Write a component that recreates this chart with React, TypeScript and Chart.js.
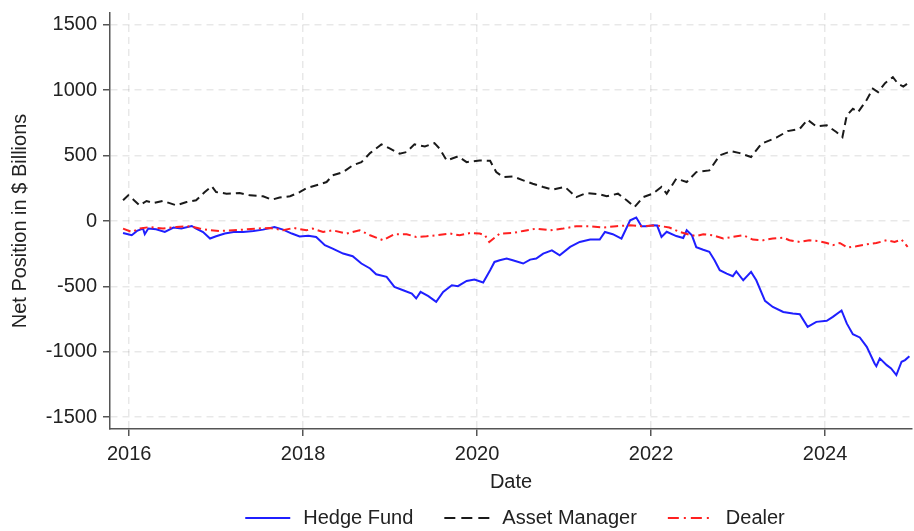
import React, { useEffect, useRef } from "react";
import { Chart, registerables } from "chart.js";

Chart.register(...registerables);

const seriesNames = ["Hedge Fund", "Asset Manager", "Dealer"];

const hedgeFundDates = [
  2015.93, 2016.03, 2016.09, 2016.16, 2016.18, 2016.22, 2016.31, 2016.41, 2016.51, 2016.6, 2016.72, 2016.77,
  2016.85, 2016.93, 2017.0, 2017.1, 2017.2, 2017.31, 2017.43, 2017.54, 2017.67, 2017.77, 2017.87, 2017.96,
  2018.06, 2018.15, 2018.25, 2018.34, 2018.46, 2018.57, 2018.67, 2018.77, 2018.84, 2018.96, 2019.05, 2019.15,
  2019.25, 2019.3, 2019.35, 2019.44, 2019.53, 2019.61, 2019.71, 2019.78, 2019.88, 2019.97, 2020.07, 2020.15,
  2020.2, 2020.26, 2020.34, 2020.41, 2020.53, 2020.61, 2020.68, 2020.76, 2020.86, 2020.95, 2021.07, 2021.18,
  2021.3, 2021.41, 2021.47, 2021.56, 2021.66, 2021.76, 2021.83, 2021.89, 2021.95, 2022.02, 2022.07, 2022.12,
  2022.18, 2022.29, 2022.37, 2022.41, 2022.47, 2022.52, 2022.6, 2022.67, 2022.73, 2022.79, 2022.87, 2022.94,
  2022.98, 2023.06, 2023.15, 2023.21, 2023.31, 2023.4, 2023.52, 2023.63, 2023.71, 2023.8, 2023.9, 2024.02,
  2024.09, 2024.19, 2024.25, 2024.32, 2024.4, 2024.48, 2024.57, 2024.59, 2024.63, 2024.71, 2024.76, 2024.82,
  2024.88, 2024.92, 2024.97,
];
const hedgeFundValues = [
  -92, -109, -76, -58, -101, -58, -63, -84, -50, -58, -38, -58,
  -84, -134, -117, -96, -84, -84, -76, -66, -46, -66, -96, -118,
  -112, -122, -185, -211, -249, -269, -325, -363, -407, -427, -504, -529,
  -554, -592, -542, -575, -618, -542, -491, -498, -458, -447, -470, -376,
  -313, -300, -287, -300, -325, -295, -287, -249, -224, -262, -198, -160,
  -142, -142, -84, -101, -134, 5, 26, -40, -40, -33, -35, -122,
  -82, -115, -130, -71, -110, -200, -220, -235, -300, -376, -402, -422,
  -385, -453, -389, -453, -610, -657, -695, -707, -712, -809, -771, -763,
  -733, -684, -783, -865, -890, -962, -1089, -1110, -1050, -1102, -1127, -1178,
  -1076, -1063, -1033,
];

const assetManagerDates = [
  2015.93, 2015.99, 2016.05, 2016.12, 2016.2, 2016.28, 2016.39, 2016.54, 2016.66, 2016.77, 2016.87, 2016.95,
  2017.0, 2017.12, 2017.27, 2017.39, 2017.54, 2017.64, 2017.73, 2017.85, 2017.96, 2018.04, 2018.19, 2018.27,
  2018.34, 2018.46, 2018.57, 2018.67, 2018.77, 2018.9, 2019.0, 2019.11, 2019.19, 2019.28, 2019.4, 2019.51,
  2019.57, 2019.65, 2019.78, 2019.88, 2020.03, 2020.15, 2020.22, 2020.3, 2020.41, 2020.53, 2020.64, 2020.76,
  2020.87, 2021.01, 2021.14, 2021.26, 2021.41, 2021.49, 2021.62, 2021.72, 2021.81, 2021.91, 2022.02, 2022.12,
  2022.18, 2022.29, 2022.41, 2022.52, 2022.67, 2022.79, 2022.92, 2023.02, 2023.15, 2023.27, 2023.44, 2023.57,
  2023.71, 2023.8, 2023.9, 2024.02, 2024.13, 2024.2, 2024.25, 2024.32, 2024.38, 2024.48, 2024.55, 2024.61,
  2024.69, 2024.78, 2024.84, 2024.9, 2024.97,
];
const assetManagerValues = [
  158, 196, 163, 120, 153, 137, 153, 120, 145, 158, 221, 265,
  221, 209, 214, 196, 189, 163, 179, 189, 221, 252, 280, 298,
  349, 374, 425, 450, 519, 586, 553, 515, 527, 586, 570, 595,
  553, 463, 494, 450, 463, 460, 374, 336, 341, 311, 285, 260,
  240, 260, 183, 214, 204, 189, 209, 158, 107, 183, 209, 260,
  209, 324, 298, 374, 387, 502, 534, 519, 489, 591, 637, 687,
  705, 774, 723, 731, 680, 641, 807, 858, 832, 927, 1011, 985,
  1054, 1099, 1049, 1028, 1061,
];

const dealerDates = [
  2015.93, 2016.03, 2016.12, 2016.24, 2016.39, 2016.54, 2016.7, 2016.81, 2016.93, 2017.04, 2017.2, 2017.31,
  2017.46, 2017.62, 2017.77, 2017.89, 2018.04, 2018.11, 2018.23, 2018.34, 2018.5, 2018.65, 2018.77, 2018.92,
  2019.05, 2019.19, 2019.3, 2019.42, 2019.53, 2019.69, 2019.8, 2019.92, 2020.03, 2020.09, 2020.14, 2020.26,
  2020.41, 2020.53, 2020.68, 2020.84, 2020.99, 2021.14, 2021.3, 2021.45, 2021.6, 2021.76, 2021.91, 2022.06,
  2022.21, 2022.33, 2022.44, 2022.52, 2022.6, 2022.71, 2022.83, 2022.94, 2023.06, 2023.17, 2023.29, 2023.4,
  2023.52, 2023.59, 2023.71, 2023.82, 2023.92, 2024.02, 2024.09, 2024.17, 2024.26, 2024.36, 2024.48, 2024.59,
  2024.71, 2024.8, 2024.88, 2024.95,
];
const dealerValues = [
  -58, -84, -58, -46, -58, -46, -40, -58, -71, -76, -71, -66,
  -58, -53, -71, -53, -71, -58, -84, -71, -96, -71, -109, -147,
  -101, -101, -122, -117, -109, -96, -109, -92, -96, -109, -160, -96,
  -92, -76, -58, -71, -58, -40, -40, -50, -40, -33, -40, -33,
  -50, -84, -105, -115, -101, -109, -134, -122, -109, -142, -147, -134,
  -127, -147, -160, -147, -153, -168, -185, -168, -203, -193, -178, -168,
  -147, -160, -142, -198,
];

const xTicks = [2016, 2018, 2020, 2022, 2024];
const yTicks = [-1500, -1000, -500, 0, 500, 1000, 1500];

const FONT = "Arial, 'Liberation Sans', sans-serif";
const TEXT = "#222222";
const AXIS = "#555555";
const GRID = "rgba(0,0,0,0.09)";

const toPoints = (xs: number[], ys: number[]) => xs.map((x, i) => ({ x, y: ys[i] }));

const legendPlugin = {
  id: "bottomLegend",
  afterDraw(chart: any) {
    const ctx = chart.ctx as CanvasRenderingContext2D;
    const lineLen = 45;
    const gapText = 13;
    const gapItem = 31;
    ctx.save();
    ctx.font = `20px ${FONT}`;
    const items = chart.data.datasets.map((ds: any) => ({
      label: ds.label,
      color: ds.borderColor,
      dash: ds.legendDash || [],
      w: ctx.measureText(ds.label).width,
    }));
    const total =
      items.reduce((s: number, it: any) => s + lineLen + gapText + it.w, 0) + gapItem * (items.length - 1);
    const cx = (chart.chartArea.left + chart.chartArea.right) / 2 + 4;
    let x = cx - total / 2;
    const y = chart.height - 13;
    for (const it of items) {
      ctx.beginPath();
      ctx.setLineDash(it.dash);
      ctx.strokeStyle = it.color;
      ctx.lineWidth = 2;
      ctx.moveTo(x, y);
      ctx.lineTo(x + lineLen, y);
      ctx.stroke();
      ctx.setLineDash([]);
      ctx.fillStyle = TEXT;
      ctx.textBaseline = "middle";
      ctx.textAlign = "left";
      ctx.fillText(it.label, x + lineLen + gapText, y);
      x += lineLen + gapText + it.w + gapItem;
    }
    ctx.restore();
  },
};

export default function App() {
  const ref = useRef<HTMLCanvasElement | null>(null);

  useEffect(() => {
    document.body.style.margin = "0";
    const canvas = ref.current;
    if (!canvas) return;
    const font = { family: FONT, size: 20 };
    const chart = new Chart(canvas, {
      type: "line",
      data: {
        datasets: [
          {
            label: seriesNames[0],
            data: toPoints(hedgeFundDates, hedgeFundValues),
            borderColor: "#1f1fff",
            borderWidth: 2,
            pointRadius: 0,
            tension: 0,
            order: 2,
            legendDash: [],
          } as any,
          {
            label: seriesNames[1],
            data: toPoints(assetManagerDates, assetManagerValues),
            borderColor: "#1a1a1a",
            borderWidth: 2,
            borderDash: [8, 5],
            pointRadius: 0,
            tension: 0,
            order: 1,
            legendDash: [11, 6],
          } as any,
          {
            label: seriesNames[2],
            data: toPoints(dealerDates, dealerValues),
            borderColor: "#ff2020",
            borderWidth: 2,
            borderDash: [8, 4, 2, 4],
            pointRadius: 0,
            tension: 0,
            order: 0,
            legendDash: [11, 5, 2, 5],
          } as any,
        ],
      },
      options: {
        responsive: false,
        animation: false,
        events: [],
        layout: { padding: { top: 13, right: 2, bottom: 36, left: 0 } },
        plugins: { legend: { display: false }, tooltip: { enabled: false } },
        scales: {
          x: {
            type: "linear",
            min: 2015.78,
            max: 2025.0,
            afterBuildTicks: (s: any) => {
              s.ticks = xTicks.map((v) => ({ value: v }));
            },
            afterFit: (s: any) => {
              s.height = 66;
              s.paddingLeft = 0;
              s.paddingRight = 0;
            },
            grid: {
              color: GRID,
              lineWidth: 1.5,
              drawTicks: true,
              tickLength: 7,
              tickColor: AXIS,
              tickWidth: 1.5,
            },
            border: { display: true, color: AXIS, width: 1.5, dash: [7, 5] },
            ticks: {
              font,
              color: TEXT,
              padding: 6,
              maxRotation: 0,
              autoSkip: false,
              callback: (v: any) => String(v),
            },
            title: {
              display: true,
              text: "Date",
              font,
              color: TEXT,
              padding: { top: 0, bottom: 1 },
            },
          },
          y: {
            type: "linear",
            min: -1590,
            max: 1590,
            afterBuildTicks: (s: any) => {
              s.ticks = yTicks.map((v) => ({ value: v }));
            },
            afterFit: (s: any) => {
              s.width = 110;
              s.paddingTop = 0;
              s.paddingBottom = 0;
            },
            grid: {
              color: GRID,
              lineWidth: 1.5,
              drawTicks: true,
              tickLength: 7,
              tickColor: AXIS,
              tickWidth: 1.5,
            },
            border: { display: true, color: AXIS, width: 1.5, dash: [7, 5] },
            ticks: {
              font,
              color: TEXT,
              padding: 6,
              autoSkip: false,
              callback: (v: any) => String(v),
            },
            title: {
              display: true,
              text: "Net Position in $ Billions",
              font,
              color: TEXT,
              padding: { top: 8, bottom: 0 },
            },
          },
        },
      } as any,
      plugins: [legendPlugin],
    });
    return () => chart.destroy();
  }, []);

  return (
    <div style={{ width: 914, height: 531, overflow: "hidden", background: "#fff" }}>
      <canvas ref={ref} width={914} height={531} style={{ display: "block" }} />
    </div>
  );
}
